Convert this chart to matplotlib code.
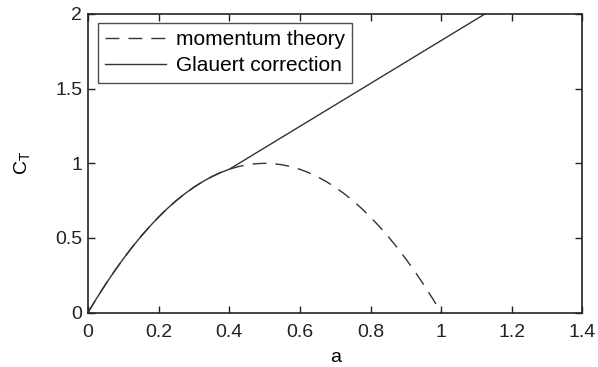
import matplotlib
matplotlib.use("Agg")
import matplotlib.pyplot as plt

plt.rcParams['font.family'] = ['Liberation Sans', 'DejaVu Sans']
plt.rcParams['mathtext.fontset'] = 'custom'
plt.rcParams['mathtext.rm'] = 'Liberation Sans'

# momentum theory
a_mom = [0.0, 0.025, 0.05, 0.075, 0.1, 0.125, 0.15, 0.175, 0.2, 0.225, 0.25, 0.275, 0.3, 0.325,
         0.35, 0.375, 0.4, 0.425, 0.45, 0.475, 0.5, 0.525, 0.55, 0.575, 0.6, 0.625, 0.65, 0.675,
         0.7, 0.725, 0.75, 0.775, 0.8, 0.825, 0.85, 0.875, 0.9, 0.925, 0.95, 0.975, 1.0]
ct_mom = [0.0, 0.0975, 0.19, 0.2775, 0.36, 0.4375, 0.51, 0.5775, 0.64, 0.6975, 0.75, 0.7975,
          0.84, 0.8775, 0.91, 0.9375, 0.96, 0.9775, 0.99, 0.9975, 1.0, 0.9975, 0.99, 0.9775,
          0.96, 0.9375, 0.91, 0.8775, 0.84, 0.7975, 0.75, 0.6975, 0.64, 0.5775, 0.51, 0.4375,
          0.36, 0.2775, 0.19, 0.0975, 0.0]

# Glauert correction
a_gl = [0.0, 0.025, 0.05, 0.075, 0.1, 0.125, 0.15, 0.175, 0.2, 0.225, 0.25, 0.275, 0.3, 0.325,
        0.35, 0.375, 0.4, 1.124]
ct_gl = [0.0, 0.0975, 0.19, 0.2775, 0.36, 0.4375, 0.51, 0.5775, 0.64, 0.6975, 0.75, 0.7975,
         0.84, 0.8775, 0.91, 0.9375, 0.96, 2.0]

xticks = [0, 0.2, 0.4, 0.6, 0.8, 1.0, 1.2, 1.4]
xticklabels = ['0', '0.2', '0.4', '0.6', '0.8', '1', '1.2', '1.4']
yticks = [0, 0.5, 1.0, 1.5, 2.0]
yticklabels = ['0', '0.5', '1', '1.5', '2']

fig = plt.figure(figsize=(5.98, 3.67), dpi=100)
ax = fig.add_axes([0.147, 0.148, 0.827, 0.814])

ax.plot(a_mom, ct_mom, color='#333333', lw=1.0, linestyle=(0, (10, 6.5)), label='momentum theory')
ax.plot(a_gl, ct_gl, color='#333333', lw=1.0, label='Glauert correction')

ax.set_xlim(0, 1.4)
ax.set_ylim(0, 2)
ax.set_xticks(xticks)
ax.set_xticklabels(xticklabels)
ax.set_yticks(yticks)
ax.set_yticklabels(yticklabels)
ax.tick_params(direction='in', top=True, right=True, length=5, width=1, labelsize=14,
               colors='#222222', pad=4)
ax.tick_params(axis='x', pad=8)
for s in ax.spines.values():
    s.set_linewidth(1.2)
    s.set_color('#222222')

ax.set_xlabel('a', fontsize=14, labelpad=6)
ax.set_ylabel(r'C$_\mathrm{T}$', fontsize=14, labelpad=16)

leg = ax.legend(loc='upper left', bbox_to_anchor=(0.02, 0.97), fontsize=15, frameon=True,
                fancybox=False, edgecolor='#222222', handlelength=2.9, borderpad=0.35,
                labelspacing=0.35, handletextpad=0.5, borderaxespad=0.0)
leg.get_frame().set_linewidth(1.0)

fig.savefig('out.png', dpi=100)
